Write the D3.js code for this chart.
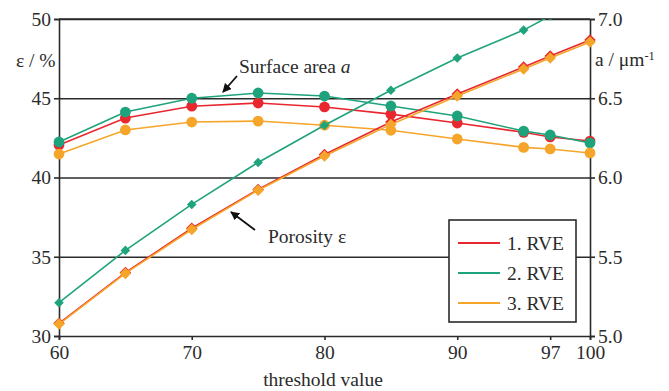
<!DOCTYPE html>
<html><head><meta charset="utf-8">
<script src="https://cdn.jsdelivr.net/npm/d3@7"></script>
<style>
body{margin:0;background:#fff;}
svg text{font-family:"Liberation Serif","Tinos","Times New Roman","DejaVu Serif",serif !important;}
</style></head>
<body><svg id="c" width="669" height="391"></svg>
<script>
const thresholds = [60, 65, 70, 75, 80, 85, 90, 95, 97, 100];
const seriesNames = ["1. RVE", "2. RVE", "3. RVE"];
const seriesColors = ["#e8282e", "#1fa37c", "#f5a52a"];
// porosity ε (%) – diamonds, left axis
const porosity1 = [30.8, 34.0, 36.8, 39.25, 41.45, 43.5, 45.27, 46.97, 47.67, 48.68];
const porosity2 = [32.1, 35.4, 38.3, 40.95, 43.3, 45.5, 47.54, 49.3, 50.2, 51.2];
const porosity3 = [30.75, 33.95, 36.72, 39.2, 41.36, 43.35, 45.14, 46.85, 47.54, 48.55];
// surface area a (1/µm) – circles, right axis
const surface1 = [6.205, 6.375, 6.45, 6.47, 6.445, 6.40, 6.344, 6.285, 6.256, 6.23];
const surface2 = [6.224, 6.413, 6.50, 6.533, 6.514, 6.451, 6.388, 6.293, 6.268, 6.218];
const surface3 = [6.148, 6.30, 6.35, 6.356, 6.33, 6.298, 6.243, 6.19, 6.18, 6.155];
const xTicks = [60, 70, 80, 90, 97, 100];
const leftTicks = [30, 35, 40, 45, 50];
const rightTicks = [5.0, 5.5, 6.0, 6.5, 7.0];

const porosity = [porosity1, porosity2, porosity3];
const surface = [surface1, surface2, surface3];

const svg = d3.select("#c");
const L = 59, R = 590, T = 19, B = 336;
const x = d3.scaleLinear().domain([60, 100]).range([L, R]);
const yL = d3.scaleLinear().domain([30, 50]).range([B, T]);
const yR = d3.scaleLinear().domain([5, 7]).range([B, T]);
const ink = "#2b2b2b";
const FONT = "'Liberation Serif','Tinos','Times New Roman','DejaVu Serif',serif";
const FS = 19.5;

// gridlines
const grid = svg.append("g").attr("transform", `translate(${L},0)`)
  .call(d3.axisLeft(yL).tickValues(leftTicks.slice(1)).tickSize(-(R - L)).tickFormat(""));
grid.select(".domain").remove();
grid.selectAll("line").attr("stroke", ink).attr("stroke-width", 1.6);

function styleAxis(g) {
  g.attr("font-family", FONT);
  g.select(".domain").attr("stroke", ink).attr("stroke-width", 1.6);
  g.selectAll("line").attr("stroke", ink).attr("stroke-width", 1.6);
  g.selectAll("text").attr("font-size", 19.5).attr("fill", ink);
}
// left axis
const gl = svg.append("g").attr("transform", `translate(${L},0)`)
  .call(d3.axisLeft(yL).tickValues(leftTicks).tickSize(5).tickPadding(3).tickFormat(d3.format("d")));
styleAxis(gl);
// right axis
const gr = svg.append("g").attr("transform", `translate(${R},0)`)
  .call(d3.axisRight(yR).tickValues(rightTicks).tickSize(5).tickPadding(3).tickFormat(d3.format(".1f")));
styleAxis(gr);
// bottom axis
const gb = svg.append("g").attr("transform", `translate(0,${B})`)
  .call(d3.axisBottom(x).tickValues(xTicks).tickSize(4).tickPadding(5).tickFormat(d3.format("d")));
styleAxis(gb);

// top line
svg.append("line").attr("x1", L).attr("x2", R).attr("y1", T).attr("y2", T)
  .attr("stroke", ink).attr("stroke-width", 1.6);

// axis titles
svg.append("text").attr("x", 16).attr("y", 67).attr("font-size", FS).attr("fill", ink).text("ε / %");
const at = svg.append("text").attr("x", 595).attr("y", 66).attr("font-size", FS).attr("fill", ink);
at.append("tspan").text("a / μm");
at.append("tspan").attr("font-size", 12.5).attr("dy", -6).text("-1");
svg.append("text").attr("x", 323).attr("y", 386).attr("text-anchor", "middle")
  .attr("font-size", FS).attr("fill", ink).text("threshold value");

// clip
svg.append("clipPath").attr("id", "clip").append("rect")
  .attr("x", L - 8).attr("y", T).attr("width", R - L + 16).attr("height", B - T + 8);
const plot = svg.append("g").attr("clip-path", "url(#clip)");

const lineL = d3.line().x((d, i) => x(thresholds[i])).y(d => yL(d));
const lineR = d3.line().x((d, i) => x(thresholds[i])).y(d => yR(d));

seriesNames.forEach((n, s) => {
  const c = seriesColors[s];
  plot.append("path").datum(surface[s]).attr("d", lineR).attr("fill", "none")
    .attr("stroke", c).attr("stroke-width", 1.6);
  plot.selectAll(null).data(surface[s]).enter().append("circle")
    .attr("cx", (d, i) => x(thresholds[i])).attr("cy", d => yR(d)).attr("r", 5.4).attr("fill", c);
});
seriesNames.forEach((n, s) => {
  const c = seriesColors[s];
  plot.append("path").datum(porosity[s]).attr("d", lineL).attr("fill", "none")
    .attr("stroke", c).attr("stroke-width", 1.6);
  plot.selectAll(null).data(porosity[s]).enter().append("path")
    .attr("d", d3.symbol().type(d3.symbolSquare).size(s === 1 ? 46 : 66)())
    .attr("fill", c)
    .attr("transform", (d, i) => `translate(${x(thresholds[i])},${yL(d)}) rotate(45)`);
});

// annotations
svg.append("defs").append("marker").attr("id", "ah").attr("viewBox", "0 0 10 10")
  .attr("refX", 9).attr("refY", 5).attr("markerWidth", 9).attr("markerHeight", 9)
  .attr("markerUnits", "userSpaceOnUse").attr("orient", "auto")
  .append("path").attr("d", "M0,0 L10,5 L0,10 z").attr("fill", "#111");
svg.append("line").attr("x1", 237).attr("y1", 76).attr("x2", 223).attr("y2", 92)
  .attr("stroke", "#111").attr("stroke-width", 1.8).attr("marker-end", "url(#ah)");
const sa = svg.append("text").attr("x", 239).attr("y", 73).attr("font-size", FS).attr("fill", ink);
sa.append("tspan").text("Surface area ");
sa.append("tspan").attr("font-style", "italic").text("a");
svg.append("line").attr("x1", 255).attr("y1", 230).attr("x2", 231).attr("y2", 212)
  .attr("stroke", "#111").attr("stroke-width", 1.8).attr("marker-end", "url(#ah)");
svg.append("text").attr("x", 268).attr("y", 243).attr("font-size", FS).attr("fill", ink).text("Porosity ε");

// legend
const lg = svg.append("g");
lg.append("rect").attr("x", 449).attr("y", 220).attr("width", 127).attr("height", 102)
  .attr("fill", "#fff").attr("stroke", ink).attr("stroke-width", 1.6);
seriesNames.forEach((n, s) => {
  const yy = 243 + s * 30;
  lg.append("line").attr("x1", 458).attr("x2", 500).attr("y1", yy).attr("y2", yy)
    .attr("stroke", seriesColors[s]).attr("stroke-width", 1.8);
  lg.append("text").attr("x", 507).attr("y", yy + 6.5).attr("font-size", FS).attr("fill", ink).text(n);
});
</script></body></html>
